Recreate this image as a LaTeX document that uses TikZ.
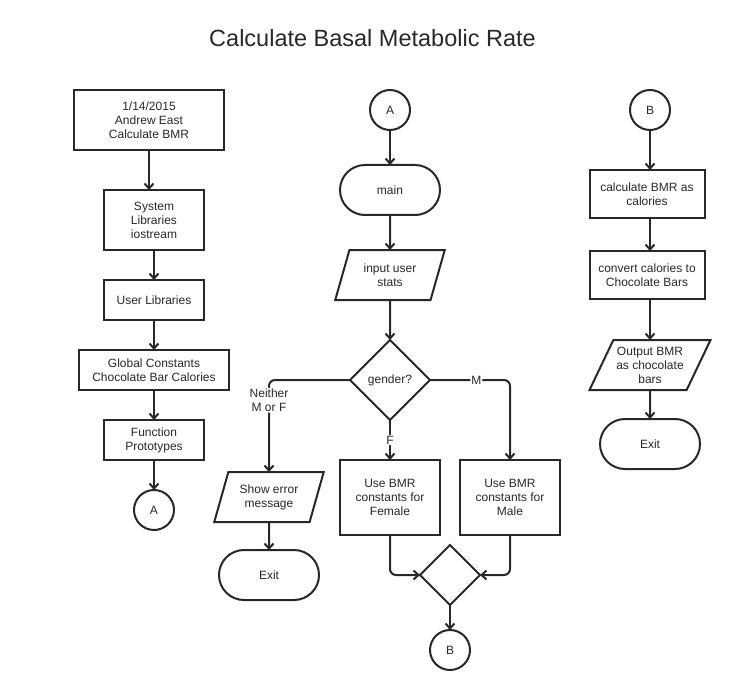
\documentclass[tikz,border=0pt]{standalone}
\usepackage{fontspec}
\setmainfont{Liberation Sans}
\usepackage{xcolor}
\usepackage{tikz}
\usetikzlibrary{shapes.geometric, arrows.meta, positioning}
\definecolor{flowline}{RGB}{40, 40, 40}

\begin{document}
\begin{tikzpicture}[
    x=1pt, y=-1pt,
    font=\fontsize{12}{14}\selectfont,
    node distance=30pt,
    box/.style={rectangle, draw=flowline, line width=2pt, outer sep=0pt, minimum width=100pt, minimum height=40pt, inner sep=0pt, align=center, text=flowline},
    term/.style={box, rounded corners=25pt, minimum height=50pt},
    io/.style={trapezium, trapezium stretches=true, trapezium left angle=68, trapezium right angle=112, draw=flowline, line width=2pt, outer sep=0pt, minimum width=110pt, minimum height=50pt, inner sep=0pt, align=center, text=flowline},
    decision/.style={diamond, aspect=1, draw=flowline, line width=2pt, outer sep=0pt, minimum size=80pt, inner sep=0pt, text=flowline},
    conn/.style={circle, draw=flowline, line width=2pt, outer sep=0pt, minimum size=40pt, inner sep=0pt, text=flowline},
    arrow/.style={-{Straight Barb[length=5pt, width=9pt]}, line width=2pt, flowline, rounded corners=6pt},
    lbl/.style={fill=white, inner sep=1pt, align=center, text=flowline}
]
\useasboundingbox (0,0) rectangle (737,690);

\node[font=\fontsize{23.5}{28}\selectfont, text=flowline] (title) at (372.5,38) {Calculate Basal Metabolic Rate};

% setup column
\node[box, minimum width=150pt, minimum height=60pt] (hdr) at (149,120) {1/14/2015\\Andrew East\\Calculate BMR};
\node[box, minimum height=60pt, below=40pt of hdr, xshift=5pt] (syslib) {System\\Libraries\\iostream};
\node[box, below=of syslib] (userlib) {User Libraries};
\node[box, minimum width=150pt, below=of userlib] (consts) {Global Constants\\Chocolate Bar Calories};
\node[box, below=of consts] (proto) {Function\\Prototypes};
\node[conn, below=of proto] (outA) {A};

% main column
\node[conn] (inA) at (390,110) {A};
\node[term, below=35pt of inA] (main) {main};
\node[io, below=35pt of main] (input) {input user\\stats};
\node[decision, below=40pt of input] (gender) {gender?};
\node[box, minimum height=75pt, below=40pt of gender] (female) {Use BMR\\constants for\\Female};
\node[box, minimum height=75pt, right=20pt of female] (male) {Use BMR\\constants for\\Male};
\node[decision, minimum size=60pt] (join) at (450,575) {};
\node[conn, below=25pt of join] (outB) {B};
\node[io] (errmsg) at (269,497) {Show error\\message};
\node[term, below=28pt of errmsg] (errexit) {Exit};

% output column
\node[conn] (inB) at (650,110) {B};
\node[box, minimum width=115pt, minimum height=48pt] (calc) at (647,194) {calculate BMR as\\calories};
\node[box, minimum width=115pt, minimum height=48pt, below=33pt of calc] (conv) {convert calories to\\Chocolate Bars};
\node[io, trapezium left angle=59, trapezium right angle=121, minimum width=121pt] (output) at (650,365) {Output BMR\\as chocolate\\bars};
\node[term, below=29pt of output] (exitB) {Exit};

\draw[arrow] (hdr) -- (hdr.south |- syslib.north);
\draw[arrow] (syslib) -- (userlib);
\draw[arrow] (userlib) -- (consts);
\draw[arrow] (consts) -- (proto);
\draw[arrow] (proto) -- (outA);

\draw[arrow] (inA) -- (main);
\draw[arrow] (main) -- (input);
\draw[arrow] (input) -- (gender);
\draw[arrow] (gender.west) -| node[lbl, pos=0.61] {Neither\\M or F} (errmsg.north);
\draw[arrow] (gender.east) -| node[lbl, pos=0.29] {M} (male.north);
\draw[arrow] (gender) -- node[lbl] {F} (female);
\draw[arrow] (female.south) |- (join.west);
\draw[arrow] (male.south) |- (join.east);
\draw[arrow] (join) -- (outB);
\draw[arrow] (errmsg) -- (errexit);

\draw[arrow] (inB) -- (inB.south |- calc.north);
\draw[arrow] (inB.south |- calc.south) -- (inB.south |- conv.north);
\draw[arrow] (inB.south |- conv.south) -- (output);
\draw[arrow] (output) -- (exitB);

\end{tikzpicture}
\end{document}
